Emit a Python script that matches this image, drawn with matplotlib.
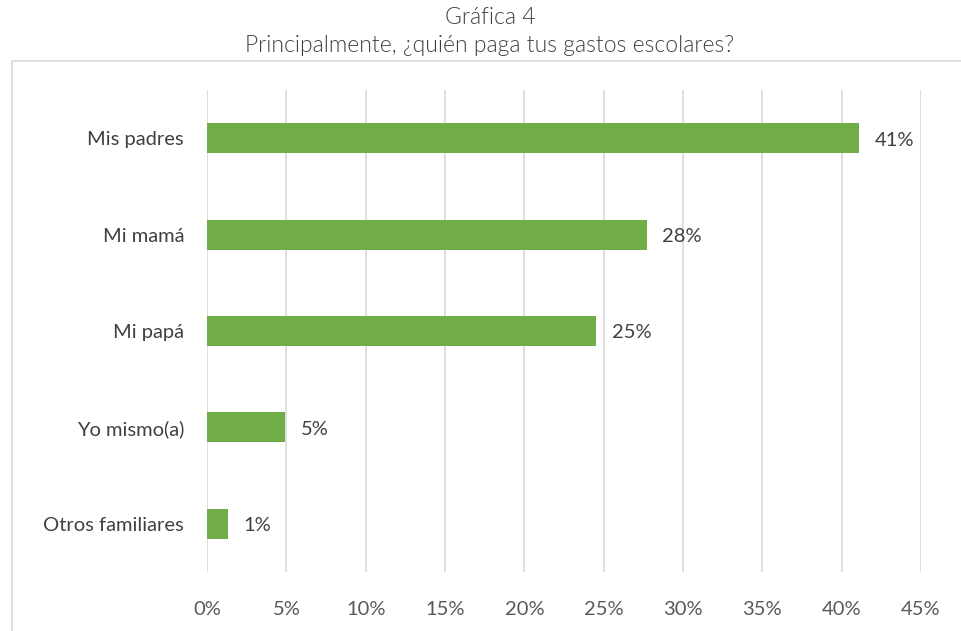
import matplotlib
matplotlib.use("Agg")
import matplotlib.pyplot as plt
from matplotlib.patches import Rectangle
from matplotlib.ticker import FuncFormatter

categories = ["Mis padres", "Mi mamá", "Mi papá", "Yo mismo(a)", "Otros familiares"]
values = [41.1, 27.7, 24.5, 4.9, 1.3]
labels = ["41%", "28%", "25%", "5%", "1%"]
xticks = [0, 5, 10, 15, 20, 25, 30, 35, 40, 45]

plt.rcParams['font.family'] = ['Lato', 'DejaVu Sans']

W, H = 961, 631
fig = plt.figure(figsize=(W / 100, H / 100), dpi=100)
fig.patch.set_facecolor("white")

ax = fig.add_axes([207 / W, 1 - 572 / H, (921 - 207) / W, (572 - 90) / H])

ypos = list(range(len(categories)))
ax.barh(ypos, values, height=0.31, color="#70AD47", zorder=3)
for y, v, lab in zip(ypos, values, labels):
    ax.text(v + 1.0, y + 0.02, lab, va="center", ha="left", fontsize=14.5, color="#404040")

ax.set_yticks(ypos)
ax.set_yticklabels(categories, fontsize=14.5, color="#404040")
ax.set_ylim(len(categories) - 0.5, -0.5)
ax.set_xlim(0, 45)
ax.set_xticks(xticks)
ax.xaxis.set_major_formatter(FuncFormatter(lambda v, p: f"{v:.0f}%"))
for t in ax.get_xticklabels():
    t.set_fontsize(14.5)
    t.set_color("#595959")
ax.tick_params(axis="both", length=0)
ax.tick_params(axis="y", pad=16.5)
ax.tick_params(axis="x", pad=21)
ax.grid(axis="x", color="#D9D9D9", linewidth=1.2, zorder=0)
for s in ax.spines.values():
    s.set_visible(False)

fig.patches.append(Rectangle((12 / W, -0.02), 1.0, 1 - 61 / H + 0.02,
                             transform=fig.transFigure, fill=False,
                             edgecolor="#D9D9D9", linewidth=1.2, zorder=0))

fig.text(490 / W, 1 - 18 / H, "Gráfica 4", ha="center", va="center",
         fontsize=16.5, fontweight=300, color="#404040")
fig.text(490 / W, 1 - 46 / H, "Principalmente, ¿quién paga tus gastos escolares?",
         ha="center", va="center", fontsize=16.5, fontweight=300, color="#404040")

fig.savefig("out.png", dpi=100)
